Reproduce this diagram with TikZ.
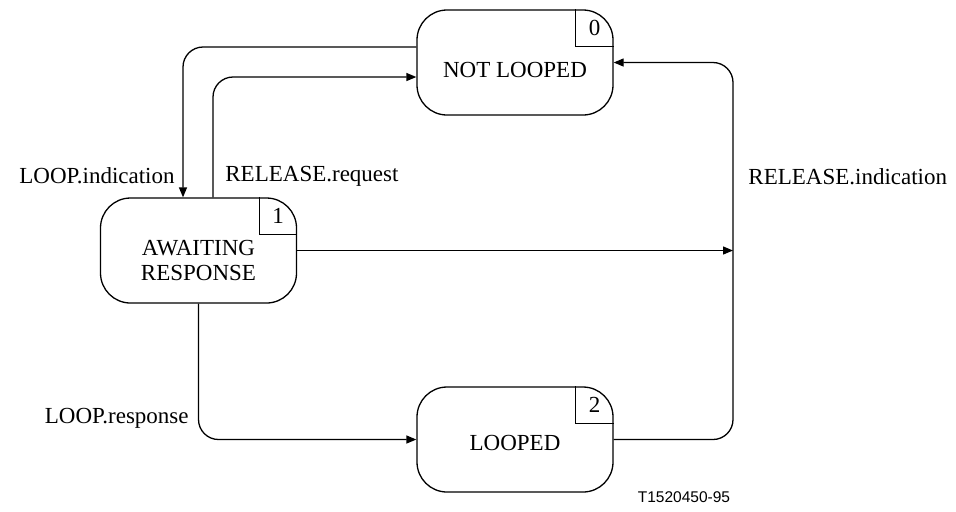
\documentclass[tikz,border=0pt]{standalone}
\usepackage{fontspec}
\setmainfont{Liberation Serif}
\setsansfont{Liberation Sans}
\usetikzlibrary{arrows.meta,positioning,calc}

\begin{document}
\begin{tikzpicture}[
  x=0.5pt,y=-0.5pt,
  font=\fontsize{11.5}{12.5}\selectfont,
  state/.style={draw,rounded corners=15pt,align=center,line width=.65pt,
    minimum width=98pt,minimum height=52.5pt,inner sep=0pt},
  numbox/.style={line width=.65pt},
  flow/.style={-{Triangle[length=5pt,width=4pt]},line width=.65pt,rounded corners=10pt},
  msg/.style={inner sep=0pt}]
  \useasboundingbox (0,0) rectangle (956,511);
  % states
  \node[state] (notlooped) at (515,62.5) {\raisebox{-3.5pt}[\height][\depth]{NOT LOOPED}};
  \node[state] (awaiting) at (198.5,250.5)
    {\raisebox{-6pt}[\height][\depth]{\begin{tabular}{@{}c@{}}AWAITING\\RESPONSE\end{tabular}}};
  \node[state] (looped) at (515,439.5) {\raisebox{-1.5pt}[\height][\depth]{LOOPED}};
  % state numbers
  \draw[numbox] ([xshift=-19pt]notlooped.north east) |- ([yshift=-18.5pt]notlooped.north east);
  \node (nlnum) at ([xshift=-9.5pt,yshift=-9.25pt]notlooped.north east) {0};
  \draw[numbox] ([xshift=-19pt]awaiting.north east) |- ([yshift=-18.5pt]awaiting.north east);
  \node (awnum) at ([xshift=-9.5pt,yshift=-9.25pt]awaiting.north east) {1};
  \draw[numbox] ([xshift=-19pt]looped.north east) |- ([yshift=-18.5pt]looped.north east);
  \node (lpnum) at ([xshift=-9.5pt,yshift=-9.25pt]looped.north east) {2};
  % transitions
  \coordinate (bus) at (733,250.5);
  \draw[flow] (notlooped.west |- 0,47) -| (awaiting.north -| 183,0);
  \draw[flow] (awaiting.north -| 213,0) |- (notlooped.west |- 0,77);
  \draw[flow] (awaiting.east) -- (bus);
  \draw[flow] (looped.east) -| (bus) |- (notlooped.east);
  \draw[flow] (awaiting.south) |- (looped.west);
  % labels
  \node[msg,anchor=east] (loopind) at (175,176) {LOOP.indication};
  \node[msg,anchor=west] (relreq) at (225,176) {RELEASE.request};
  \node[msg,anchor=west] (relind) at (748,177) {RELEASE.indication};
  \node[msg,anchor=east] (loopresp) at (189,418) {LOOP.response};
  \node[msg,font=\sffamily\fontsize{7.75}{9}\selectfont] (figid) at (684,497) {T1520450-95};
\end{tikzpicture}
\end{document}
